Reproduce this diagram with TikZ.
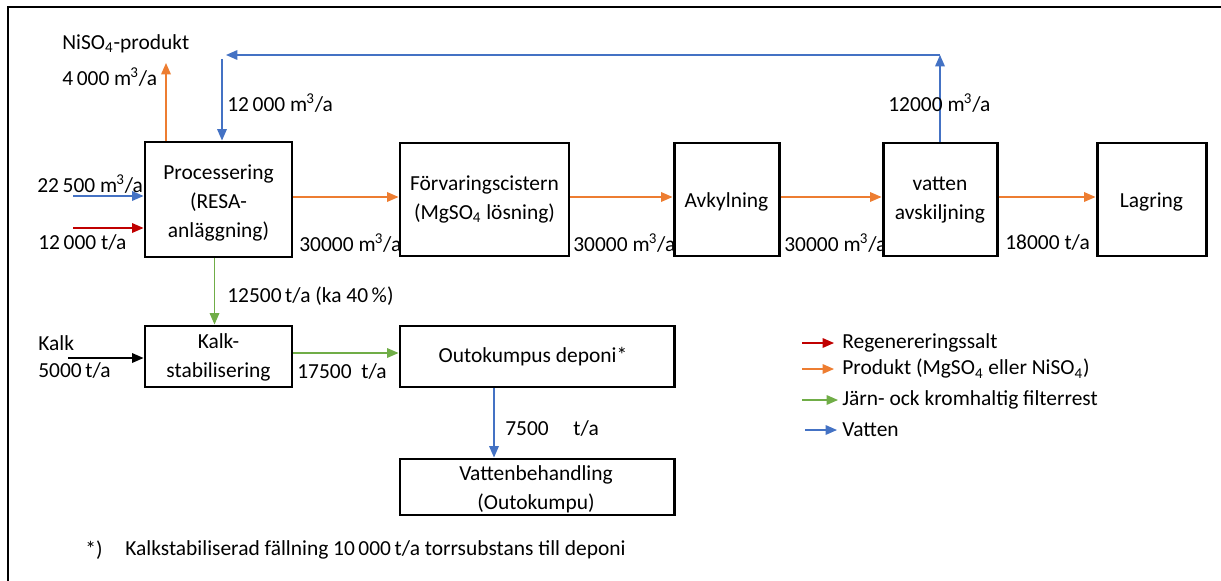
\documentclass[tikz,border=0pt]{standalone}
\usepackage{fontspec}
\setmainfont{Carlito}
\usetikzlibrary{arrows.meta,fit,calc}
\definecolor{cblue}{HTML}{4472C4}
\definecolor{corange}{HTML}{ED7D31}
\definecolor{cgreen}{HTML}{70AD47}
\definecolor{cred}{HTML}{C00000}
\tikzset{
  txt/.style={font=\fontsize{12.2pt}{16.5pt}\selectfont, inner sep=0pt},
  lbl/.style={txt, anchor=west},
  box/.style={draw=black, line width=1.7pt, inner sep=0pt, align=center, txt},
  arr/.style={line width=0.7pt, -{Triangle[length=6.5pt,width=5.5pt]}},
  barr/.style={arr, draw=cblue},
  oarr/.style={arr, draw=corange},
  garr/.style={arr, draw=cgreen},
  rarr/.style={arr, draw=cred},
  karr/.style={arr, draw=black},
  frame/.style={line width=1.4pt}
}
\newcommand{\cub}{\textsuperscript{\kern-0.5pt 3}}
\begin{document}
\begin{tikzpicture}[x=0.02cm,y=-0.02cm]
\useasboundingbox (0,0) rectangle (1221,581);
% frame
\draw[frame] (8,581) -- (8,7) -- (1221,7);
% boxes
\node[box, fit={(145,142) (292,257)}] (P) {};
\node[txt, align=center] at (218.5,203) {Processering\\(RESA-\\anläggning)};
\node[box, fit={(400,143) (569,256)}] (F) {};
\node[txt, align=center] at (484.5,199) {Förvaringscistern\\(MgSO\textsubscript{4} lösning)};
\node[box, fit={(674,143) (779,256)}] (A) {};
\node[txt] at (726.5,202) {Avkylning};
\node[box, fit={(883,143) (997,256)}] (V) {};
\node[txt, align=center] at (940,200) {vatten\\avskiljning};
\node[box, fit={(1097,143) (1206,256)}] (L) {};
\node[txt] at (1151.5,202) {Lagring};
\node[box, fit={(145,326) (292,387)}] (K) {};
\node[txt, align=center] at (218.5,357) {Kalk-\\stabilisering};
\node[box, fit={(400,326) (674,387)}] (O) {};
\node[txt] at (533,357) {Outokumpus deponi*};
\node[box, fit={(400,459) (674,515)}] (VB) {};
\node[txt, align=center] at (536,489) {Vattenbehandling\\(Outokumpu)};
% coordinates
\coordinate (inB) at (73,196);
\coordinate (inR) at (73,228);
\coordinate (nip) at (166,63);
\coordinate (c1) at (940,55);
\coordinate (c2) at (226,55);
\coordinate (c3) at (222,59);
\coordinate (kin) at (68,358);
\coordinate (ov) at (494,0);
% connectors
\draw[oarr] ([shift={(0,-2.5)}]P.east) -- ([shift={(0,-2.5)}]F.west);
\draw[oarr] ([shift={(0,-2.5)}]F.east) -- ([shift={(0,-2.5)}]A.west);
\draw[oarr] ([shift={(0,-2.5)}]A.east) -- ([shift={(0,-2.5)}]V.west);
\draw[oarr] ([shift={(0,-2.5)}]V.east) -- ([shift={(0,-2.5)}]L.west);
\draw[barr] (inB) -- (inB -| P.west);
\draw[rarr] (inR) -- (inR -| P.west);
\draw[oarr] (nip |- P.north) -- (nip);
\draw[barr] (V.north) -- (c1);
\draw[barr] (c1) -- (c2);
\draw[barr] (c3) -- (c3 |- P.north);
\draw[garr] ([shift={(-4,0)}]P.south) -- ([shift={(-4,0)}]K.north);
\draw[karr] (kin) -- (kin -| K.west);
\draw[garr] ([shift={(0,-3.5)}]K.east) -- ([shift={(0,-3.5)}]O.west);
\draw[barr] (ov |- O.south) -- (ov |- VB.north);
% labels
\node[lbl] (l1) at (62,44) {NiSO\textsubscript{4}-produkt};
\node[lbl] (l2) at (62,77) {4\,000 m\cub/a};
\node[lbl] (l3) at (227,103) {12\,000 m\cub/a};
\node[lbl] (l4) at (37,184) {22\,500 m\cub/a};
\node[lbl] (l5) at (38,243) {12\,000 t/a};
\node[lbl] (l6) at (299,243) {30000 m\cub/a};
\node[lbl] (l7) at (573,243) {30000 m\cub/a};
\node[lbl] (l8) at (784,243) {30000 m\cub/a};
\node[lbl] (l9) at (1005,243) {18000 t/a};
\node[lbl] (l10) at (888,103) {12000 m\cub/a};
\node[lbl] (l11) at (227,296) {12500\,t/a (ka 40\,\%)};
\node[lbl] (l12) at (38,343) {Kalk};
\node[lbl] (l13) at (38,371) {5000\,t/a};
\node[lbl] (l14) at (297,372) {17500\ \ t/a};
\node[lbl] (l15) at (505,429) {7500\hspace{14pt}t/a};
% legend
\coordinate (g1) at (802,343);
\coordinate (g2) at (802,369);
\coordinate (g3) at (802,400);
\coordinate (g4) at (805,430);
\draw[rarr] (g1) -- ++(32,0);
\draw[oarr] (g2) -- ++(32,0);
\draw[garr] (g3) -- ++(36,0);
\draw[barr] (g4) -- ++(32,0);
\node[lbl] (t1) at (842,343) {Regenereringssalt};
\node[lbl] (t2) at (842,369) {Produkt (MgSO\textsubscript{4} eller NiSO\textsubscript{4})};
\node[lbl] (t3) at (842,400) {Järn- ock kromhaltig filterrest};
\node[lbl] (t4) at (842,430) {Vatten};
% footnote
\node[lbl] (f1) at (85,550) {*)};
\node[lbl] (f2) at (125,550) {Kalkstabiliserad fällning 10\,000\,t/a torrsubstans till deponi};
\end{tikzpicture}
\end{document}
